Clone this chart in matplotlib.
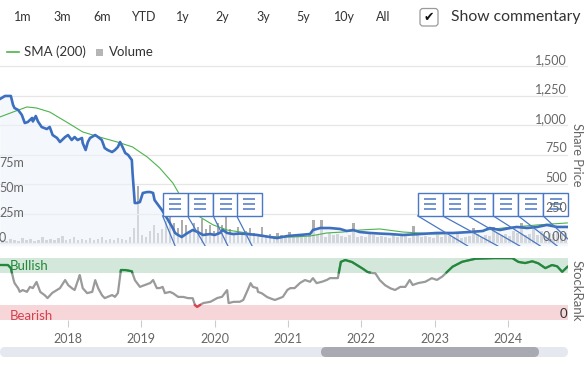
import numpy as np
import matplotlib
matplotlib.use("Agg")
import matplotlib.pyplot as plt
import matplotlib.transforms as mtransforms
from matplotlib.patches import FancyBboxPatch, Rectangle

plt.rcParams['font.family'] = ['Lato', 'DejaVu Sans']

# ---------------- data ----------------
range_buttons = ['1m', '3m', '6m', 'YTD', '1y', '2y', '3y', '5y', '10y', 'All']
year_ticks = [2018, 2019, 2020, 2021, 2022, 2023, 2024]
x_start, x_end = 2017.072, 2024.819

price_ticks = [0, 250, 500, 750, 1000, 1250, 1500]
price_tick_labels = ['0.00', '250', '500', '750', '1,000', '1,250', '1,500']
volume_ticks = [0, 25, 50, 75]
volume_tick_labels = ['0', '25m', '50m', '75m']

price_dates = [2017.07, 2017.14, 2017.22, 2017.25, 2017.27, 2017.32, 2017.37, 2017.41, 2017.45, 2017.51,
               2017.52, 2017.56, 2017.59, 2017.64, 2017.71, 2017.75, 2017.79, 2017.85, 2017.89, 2017.96,
               2018.00, 2018.05, 2018.09, 2018.13, 2018.19, 2018.20, 2018.24, 2018.27, 2018.30, 2018.37,
               2018.41, 2018.46, 2018.50, 2018.54, 2018.60, 2018.64, 2018.68, 2018.71, 2018.75, 2018.78,
               2018.82, 2018.87, 2018.88, 2018.91, 2018.94, 2018.98, 2019.02, 2019.08, 2019.12, 2019.16,
               2019.18, 2019.23, 2019.28, 2019.32, 2019.36, 2019.42, 2019.46, 2019.50, 2019.55, 2019.59,
               2019.63, 2019.70, 2019.77, 2019.84, 2019.94, 2020.00, 2020.07, 2020.11, 2020.17, 2020.25,
               2020.34, 2020.44, 2020.58, 2020.66, 2020.75, 2020.85, 2020.99, 2021.16, 2021.30, 2021.34,
               2021.44, 2021.57, 2021.71, 2021.80, 2021.89, 2021.98, 2022.12, 2022.25, 2022.39, 2022.57,
               2022.80, 2023.03, 2023.25, 2023.48, 2023.66, 2023.75, 2023.89, 2024.03, 2024.12, 2024.26,
               2024.40, 2024.53, 2024.67, 2024.81]
price_values = [1220, 1246, 1246, 1170, 1144, 1127, 1085, 1017, 1025, 1060,
                1030, 1076, 1030, 983, 966, 983, 915, 890, 856, 898,
                915, 873, 898, 873, 890, 847, 788, 856, 890, 915,
                898, 873, 805, 788, 771, 788, 814, 856, 805, 763,
                746, 703, 593, 339, 339, 347, 424, 432, 432, 424,
                364, 322, 280, 240, 200, 136, 85, 68, 51, 68,
                85, 110, 93, 68, 76, 68, 85, 110, 85, 76,
                80, 76, 68, 60, 51, 42, 59, 68, 76, 110,
                127, 127, 119, 102, 110, 93, 85, 80, 76, 68,
                76, 85, 85, 93, 102, 127, 110, 127, 136, 127,
                136, 153, 136, 136]

sma_dates = [2017.07, 2017.25, 2017.44, 2017.57, 2017.75, 2017.98, 2018.20, 2018.43, 2018.67, 2018.88,
             2018.98, 2019.08, 2019.25, 2019.43, 2019.62, 2019.80, 2019.98, 2020.17, 2020.44, 2020.62,
             2020.85, 2021.07, 2021.30, 2021.53, 2021.75, 2021.98, 2022.25, 2022.57, 2023.03, 2023.48,
             2023.93, 2024.40, 2024.81]
sma_values = [1068, 1110, 1153, 1144, 1110, 1025, 941, 898, 856, 814,
              771, 729, 636, 508, 305, 220, 153, 110, 85, 59,
              51, 51, 59, 85, 93, 110, 119, 93, 76, 93,
              127, 153, 170]

# volume in millions, one bar every ~20 days from early 2017
volume_values = [3, 2, 4, 3, 2, 5, 3, 4, 2, 3, 6, 3, 4, 3, 5, 7, 3,
                 4, 6, 3, 4, 3, 5, 3, 4, 6, 3, 4, 3, 5, 4, 3, 6,
                 15, 57,
                 8, 6, 12, 18, 10, 14, 22, 26, 20, 15, 23, 18, 12, 20, 16, 24, 14, 18,
                 12, 20, 18, 31, 14, 10, 16, 9, 12, 15, 10, 8, 16, 7, 9, 6, 10, 8,
                 6, 11, 8, 7, 9, 6, 8, 23, 8, 23, 6, 10, 8, 9, 7, 6, 8, 20, 6,
                 7, 6, 9, 8, 6, 7, 6, 5, 8, 6, 7, 9, 5, 17, 8, 6, 7, 6,
                 5, 8, 6, 9, 7, 6, 10, 5, 6, 7, 15, 9, 6, 8, 7, 16, 10, 8,
                 9, 7, 12, 10, 20, 8, 9, 14, 8, 12, 7, 10, 9, 11, 8, 10]
volume_dates = np.linspace(2017.10, 2024.79, len(volume_values))

rank_dates = [2017.07, 2017.18, 2017.22, 2017.25, 2017.27, 2017.32, 2017.34, 2017.38, 2017.44, 2017.48,
              2017.52, 2017.57, 2017.62, 2017.68, 2017.72, 2017.78, 2017.85, 2017.89, 2017.96, 2018.00,
              2018.05, 2018.09, 2018.16, 2018.20, 2018.26, 2018.33, 2018.37, 2018.41, 2018.46, 2018.50,
              2018.54, 2018.60, 2018.64, 2018.68, 2018.72, 2018.78, 2018.87, 2018.91, 2018.98, 2019.05,
              2019.12, 2019.16, 2019.21, 2019.25, 2019.29, 2019.32, 2019.39, 2019.43, 2019.50, 2019.57,
              2019.63, 2019.70, 2019.73, 2019.76, 2019.80, 2019.84, 2019.94, 2020.03, 2020.10, 2020.17,
              2020.19, 2020.25, 2020.34, 2020.39, 2020.44, 2020.49, 2020.52, 2020.58, 2020.59, 2020.64,
              2020.71, 2020.75, 2020.82, 2020.89, 2020.93, 2020.99, 2021.03, 2021.09, 2021.16, 2021.23,
              2021.30, 2021.34, 2021.39, 2021.46, 2021.53, 2021.57, 2021.64, 2021.68, 2021.72, 2021.78,
              2021.87, 2021.94, 2022.01, 2022.08, 2022.15, 2022.19, 2022.25, 2022.32, 2022.39, 2022.46,
              2022.53, 2022.60, 2022.66, 2022.70, 2022.77, 2022.87, 2022.96, 2023.03, 2023.10, 2023.17,
              2023.24, 2023.37, 2023.55, 2023.78, 2024.06, 2024.14, 2024.23, 2024.33, 2024.41, 2024.51,
              2024.60, 2024.67, 2024.74, 2024.81]
rank_values = [88, 88, 83, 67, 59, 51, 45, 48, 45, 53,
               51, 61, 45, 40, 35, 43, 48, 51, 64, 56,
               51, 48, 72, 51, 43, 45, 64, 51, 40, 35,
               37, 40, 37, 43, 80, 80, 78, 64, 53, 56,
               59, 64, 51, 51, 53, 43, 45, 43, 37, 37,
               35, 35, 24, 21, 24, 27, 29, 35, 37, 48,
               27, 29, 29, 32, 45, 59, 53, 51, 45, 43,
               37, 35, 32, 35, 37, 48, 51, 51, 59, 64,
               61, 67, 59, 61, 64, 67, 67, 67, 93, 96,
               93, 88, 83, 77, 75, 75, 64, 56, 51, 48,
               53, 53, 64, 56, 59, 61, 67, 64, 69, 77,
               85, 93, 98, 99, 99, 93, 91, 94, 91, 83,
               88, 86, 77, 85]
bullish_min, bearish_max = 76, 25

# commentary flags: anchor date on the axis and where its (stacked) box starts
flag_dates = [2019.46, 2019.87, 2020.18, 2020.51,
              2023.45, 2023.86, 2024.16, 2024.44, 2024.67, 2024.92]
flag_box_dates = [2019.29, 2019.63, 2019.98, 2020.30,
                  2022.77, 2023.11, 2023.45, 2023.80, 2024.14, 2024.48]

# ---------------- figure ----------------
W, H = 584, 368
fig = plt.figure(figsize=(W / 100, H / 100), dpi=100)
fig.patch.set_facecolor('white')


def box(x0, y0, x1, y1):
    """axes rect from pixel box (top-left origin)"""
    return [x0 / W, 1 - y1 / H, (x1 - x0) / W, (y1 - y0) / H]


TXT = '#333333'
LAB = '#666666'
BLUE = '#3d6fbf'
FLAGBLUE = '#4a78c4'

# price pane
ax = fig.add_axes(box(0, 60, 568, 246))
ax.set_xlim(x_start, x_end)
ax.set_ylim(-3 * 1500 / 177, 1500 + 6 * 1500 / 177)
for s in ax.spines.values():
    s.set_visible(False)
ax.set_xticks([])
ax.set_yticks([])
ax.patch.set_alpha(0)

# volume (own scale)
axv = fig.add_axes(box(0, 60, 568, 246), zorder=0)
axv.set_xlim(x_start, x_end)
axv.set_ylim(-3, 183)
axv.axis('off')
axv.bar(volume_dates, volume_values, width=0.04, color='#adadad', zorder=1)
ax.set_zorder(1)

for t in price_ticks:
    ax.axhline(t, color='#e6e6e6', lw=0.9, zorder=0.5)

ax.fill_between(price_dates, price_values, ax.get_ylim()[0], color='#edf2fa', alpha=0.6, lw=0, zorder=0.8)
ax.plot(sma_dates, sma_values, color='#4db34d', lw=0.8, zorder=2)
ax.plot(price_dates, price_values, color=BLUE, lw=1.9, zorder=3, solid_joinstyle='round')

# price labels (right, above gridlines)
tr_p = mtransforms.offset_copy(mtransforms.blended_transform_factory(ax.transAxes, ax.transData),
                               fig=fig, x=-1, y=2, units='dots')
for t, lab in zip(price_ticks, price_tick_labels):
    ax.text(1.0, t, lab, transform=tr_p, ha='right', va='baseline', fontsize=9, color=LAB,
            zorder=20, clip_on=False)

tr_v = mtransforms.offset_copy(mtransforms.blended_transform_factory(axv.transAxes, axv.transData),
                               fig=fig, x=-1, y=1, units='dots')
for t, lab in zip(volume_ticks, volume_tick_labels):
    ax.text(0.0, t, lab, transform=tr_v, ha='left', va='baseline', fontsize=9, color=LAB,
            zorder=20, clip_on=False)

# flags
upp = 1525.4 / 186.0  # price units per pixel
ypp = (x_end - x_start) / 568.0  # years per pixel
bw = 25 * ypp
b_bot, b_top = (243 - 215) * upp, (243 - 191) * upp
line_end = (243 - 246) * upp
for fd, bd in zip(flag_dates, flag_box_dates):
    ax.plot([bd, fd], [b_bot, line_end], color=FLAGBLUE, lw=0.9, zorder=5, clip_on=True)
for fd, bd in zip(flag_dates, flag_box_dates):
    ax.add_patch(Rectangle((bd, b_bot), bw, b_top - b_bot, facecolor='white', edgecolor=FLAGBLUE,
                           lw=1.0, zorder=6, clip_on=False))
    cx = bd + bw / 2
    for dy in (-5, 0, 5):
        yy = (b_bot + b_top) / 2 + dy * upp
        ax.plot([cx - 6 * ypp, cx + 6 * ypp], [yy, yy], color=FLAGBLUE, lw=1.1, zorder=7,
                solid_capstyle='butt', clip_on=False)

# StockRank pane
axr = fig.add_axes(box(0, 257.5, 568, 320))
axr.set_xlim(x_start, x_end)
axr.set_ylim(0, 100)
for s in axr.spines.values():
    s.set_visible(False)
axr.axhspan(bullish_min, 100, color='#d3e8da', lw=0, zorder=0)
axr.axhspan(0, bearish_max - 1, color='#f6d6d8', lw=0, zorder=0)
dense_x = np.linspace(rank_dates[0], rank_dates[-1], 4000)
dense_y = np.interp(dense_x, rank_dates, rank_values)
axr.plot(dense_x, dense_y, color='#9a9a9a', lw=1.6, zorder=2)
axr.plot(dense_x, np.where(dense_y >= bullish_min, dense_y, np.nan), color='#1f8a3b', lw=1.6, zorder=3)
axr.plot(dense_x, np.where(dense_y <= bearish_max - 1, dense_y, np.nan), color='#e0404e', lw=1.6, zorder=3)
axr.set_yticks([])
axr.set_xticks(year_ticks)
axr.set_xticklabels([str(y) for y in year_ticks], fontsize=9, color=LAB)
axr.tick_params(axis='x', length=5, width=0.8, color='#cccccc', pad=4.5)
axr.text(0.018, 86, 'Bullish', transform=axr.get_yaxis_transform(), fontsize=9.5, color='#23883a',
         va='center', ha='left', zorder=4)
axr.text(0.018, 7, 'Bearish', transform=axr.get_yaxis_transform(), fontsize=9.5, color='#d6404d',
         va='center', ha='left', zorder=4)
axr.text(0.998, 10, '0', transform=axr.get_yaxis_transform(), fontsize=9.5, color=TXT,
         va='center', ha='right', zorder=4)

# ---------------- chrome (pixel overlay) ----------------
ov = fig.add_axes([0, 0, 1, 1], zorder=10)
ov.set_xlim(0, W)
ov.set_ylim(H, 0)
ov.axis('off')
ov.patch.set_alpha(0)

btn_x = [23, 62.5, 102, 143, 183, 222.5, 263, 303.5, 344, 383.5]
for bx, lab in zip(btn_x, range_buttons):
    ov.text(bx, 17, lab, ha='center', va='center', fontsize=9, color=TXT)
ov.add_patch(FancyBboxPatch((420, 8.5), 18, 17.5, boxstyle='round,pad=0,rounding_size=3',
                            facecolor='white', edgecolor='#9a9a9a', lw=0.9))
ov.text(429, 17.5, '\u2714', ha='center', va='center', fontsize=9, color='#111111',
        family='DejaVu Sans')
ov.text(451, 17, 'Show commentary', ha='left', va='center', fontsize=11.3, color=TXT)

# legend
ov.plot([7, 19], [52, 52], color='#4db34d', lw=1.2)
ov.text(24, 51.5, 'SMA (200)', ha='left', va='center', fontsize=9.5, color=TXT)
ov.add_patch(Rectangle((96, 48.5), 7, 7, facecolor='#b5b5b5', edgecolor='none'))
ov.text(109, 51.5, 'Volume', ha='left', va='center', fontsize=9.5, color=TXT)

# axis titles
ov.text(577, 155, 'Share Price', rotation=-90, ha='center', va='center', fontsize=9.3, color=LAB)
ov.text(577, 291, 'StockRank', rotation=-90, ha='center', va='center', fontsize=9.5, color=LAB)

# navigator scrollbar
ov.add_patch(FancyBboxPatch((0, 347), 568, 10, boxstyle='round,pad=0,rounding_size=5',
                            facecolor='#e6e8f0', edgecolor='none'))
ov.add_patch(FancyBboxPatch((321, 347), 218, 10, boxstyle='round,pad=0,rounding_size=5',
                            facecolor='#a9aab1', edgecolor='none'))

fig.savefig('out.png', dpi=100, facecolor='white')
